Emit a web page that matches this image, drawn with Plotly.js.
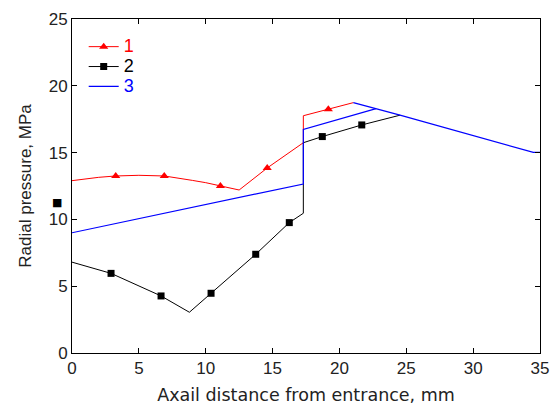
<!DOCTYPE html>
<html>
<head>
<meta charset="utf-8">
<script src="https://cdn.plot.ly/plotly-3.0.1.min.js"></script>
<style>html,body{margin:0;padding:0;background:#fff;}#chart{width:550px;height:405px;}</style>
</head>
<body>
<div id="chart"></div>
<script>
// Series 1 (red, triangles)
const s1X = [0, 1, 2, 3.27, 5, 6.9, 8, 9, 10, 11.1, 12.5, 14.6, 17.3, 17.3, 19.17, 21.04];
const s1Y = [12.9, 13.05, 13.15, 13.25, 13.3, 13.25, 13.1, 12.92, 12.75, 12.5, 12.2, 13.85, 15.74, 17.76, 18.25, 18.74];
const s1MarkX = [3.27, 6.9, 11.1, 14.6, 19.17];
const s1MarkY = [13.25, 13.25, 12.5, 13.85, 18.25];

// Series 2 (black, squares)
const s2X = [0, 2.92, 6.66, 8.78, 10.4, 13.74, 16.25, 17.3, 17.3, 18.72, 21.67, 24.53];
const s2Y = [6.8, 5.96, 4.27, 3.05, 4.47, 7.39, 9.76, 10.46, 15.74, 16.2, 17.07, 17.8];
const s2MarkX = [2.92, 6.66, 10.4, 13.74, 16.25, 18.72, 21.67];
const s2MarkY = [5.96, 4.27, 4.47, 7.39, 9.76, 16.2, 17.07];

// Series 3 (blue)
const s3X = [0, 17.3, 17.3, 22.74];
const s3Y = [9.0, 12.65, 16.74, 18.29];

// Shared descending branch (drawn blue)
const tailX = [21.04, 24.53, 34.5, 35];
const tailY = [18.74, 17.8, 15.02, 15.02];

// Stray mark outside the axes
const strayX = [-1.1];
const strayY = [11.25];

const xRange = [0, 35];
const yRange = [0, 25];
const xTicks = [0, 5, 10, 15, 20, 25, 30, 35];
const yTicks = [0, 5, 10, 15, 20, 25];

const RED = '#ff0000', BLACK = '#000000', BLUE = '#0000ff';
const TICKFONT = 'Liberation Sans, Arial, sans-serif';
const TITLEFONT = 'DejaVu Sans, Verdana, sans-serif';

const traces = [
  {x: s1X, y: s1Y, mode: 'lines', line: {color: RED, width: 1}, showlegend: false},
  {x: s1MarkX, y: s1MarkY, mode: 'markers', marker: {symbol: 'triangle-up', size: 8, color: RED}, showlegend: false},
  {x: s2X, y: s2Y, mode: 'lines', line: {color: BLACK, width: 1}, showlegend: false},
  {x: s2MarkX, y: s2MarkY, mode: 'markers', marker: {symbol: 'square', size: 7, color: BLACK}, showlegend: false},
  {x: s3X, y: s3Y, mode: 'lines', line: {color: BLUE, width: 1.2}, showlegend: false},
  {x: tailX, y: tailY, mode: 'lines', line: {color: BLUE, width: 1.2}, showlegend: false},
  // legend entries
  {x: [null], y: [null], mode: 'lines+markers', name: '<span style="color:#ff0000;font-size:18px">1</span>', line: {color: RED, width: 1}, marker: {symbol: 'triangle-up', size: 8, color: RED}},
  {x: [null], y: [null], mode: 'lines+markers', name: '<span style="color:#000000;font-size:18px">2</span>', line: {color: BLACK, width: 1}, marker: {symbol: 'square', size: 7, color: BLACK}},
  {x: [null], y: [null], mode: 'lines', name: '<span style="color:#0000ff;font-size:18px">3</span>', line: {color: BLUE, width: 1.2}}
];

const axisCommon = {
  showgrid: false, zeroline: false, showline: true, linecolor: '#000', linewidth: 1,
  mirror: 'ticks', ticks: 'inside', ticklen: 5, tickcolor: '#000',
  tickfont: {family: TICKFONT, size: 17, color: '#222'}
};

const layout = {
  width: 550, height: 405,
  margin: {l: 72, r: 10, t: 19, b: 52},
  paper_bgcolor: '#fff', plot_bgcolor: '#fff',
  font: {family: TICKFONT, color: '#222'},
  xaxis: Object.assign({}, axisCommon, {
    range: xRange, tickvals: xTicks, ticktext: xTicks.map(String),
    title: {text: 'Axail distance from entrance, mm', font: {family: TITLEFONT, size: 17.5, color: '#222'}, standoff: 14}
  }),
  yaxis: Object.assign({}, axisCommon, {
    range: yRange, tickvals: yTicks, ticktext: yTicks.map(String),
    title: {text: 'Radial pressure, MPa', font: {family: TICKFONT, size: 17, color: '#222'}, standoff: 12}
  }),
  legend: {
    x: 0.025, y: 0.962, xanchor: 'left', yanchor: 'top',
    bgcolor: 'rgba(0,0,0,0)', font: {size: 13, family: TICKFONT},
    tracegroupgap: 0
  },
  annotations: strayX.map((xv, i) => ({
    x: (xv - xRange[0]) / (xRange[1] - xRange[0]),
    y: (strayY[i] - yRange[0]) / (yRange[1] - yRange[0]),
    xref: 'paper', yref: 'paper', text: '■', showarrow: false,
    font: {size: 11, color: BLACK, family: 'DejaVu Sans'}, xanchor: 'center', yanchor: 'middle'
  })),
  showlegend: true
};

Plotly.newPlot('chart', traces, layout, {staticPlot: true, displayModeBar: false});
</script>
</body>
</html>
